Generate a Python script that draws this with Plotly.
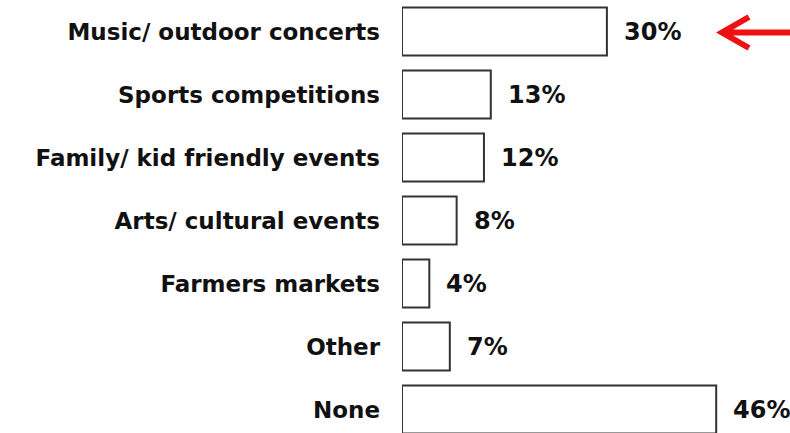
import plotly.graph_objects as go

categories = [
    "Music/ outdoor concerts",
    "Sports competitions",
    "Family/ kid friendly events",
    "Arts/ cultural events",
    "Farmers markets",
    "Other",
    "None",
]
values = [30, 13, 12, 8, 4, 7, 46]
value_labels = ["30%", "13%", "12%", "8%", "4%", "7%", "46%"]

positions = list(range(len(categories)))

fig = go.Figure(
    go.Bar(
        x=values,
        y=positions,
        orientation="h",
        width=0.76,
        marker=dict(color="white", line=dict(color="#333333", width=2)),
        hoverinfo="skip",
    )
)

# value labels to the right of each bar
for pos, val, lab in zip(positions, values, value_labels):
    fig.add_annotation(
        x=val, y=pos, xref="x", yref="y",
        text=lab, showarrow=False,
        xanchor="left", yanchor="middle", xshift=15,
        font=dict(family="DejaVu Sans", size=24, color="#111111", weight="bold"),
    )

# red arrow pointing at the top bar's label
W, H, L = 790, 433, 402
def px(x):
    return (x - L) / (W - L)
def py(y):
    return 1 - y / H

arrow_path = (
    f"M {px(792)},{py(32.5)} L {px(722)},{py(32.5)} "
    f"M {px(749)},{py(17)} L {px(722)},{py(32.5)} L {px(749)},{py(48)}"
)
fig.add_shape(
    type="path", xref="paper", yref="paper", path=arrow_path,
    line=dict(color="#ee1111", width=6),
)

fig.update_layout(
    width=W, height=H,
    margin=dict(l=L, r=0, t=0, b=0),
    paper_bgcolor="white", plot_bgcolor="white",
    showlegend=False,
    bargap=0.24,
    xaxis=dict(range=[0, (W - L) / 6.83], visible=False, fixedrange=True),
    yaxis=dict(
        range=[6.373, -0.5],
        tickvals=positions, ticktext=categories,
        showgrid=False, zeroline=False, showline=False, ticks="",
        ticklabelstandoff=21,
        tickfont=dict(family="DejaVu Sans", size=23, color="#111111", weight="bold"),
        fixedrange=True,
    ),
)

fig.write_html("out.html")
